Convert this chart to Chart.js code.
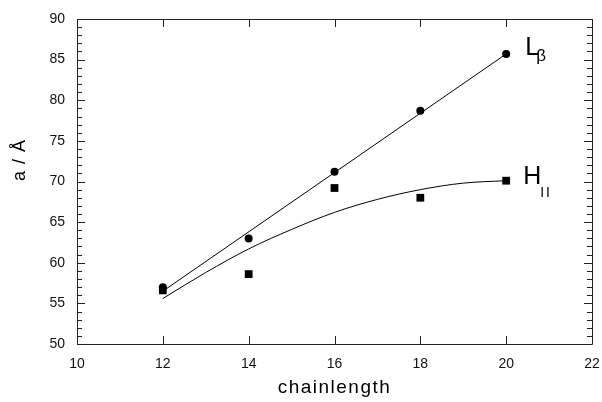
<!DOCTYPE html>
<html>
<head>
<meta charset="utf-8">
<script src="https://cdn.jsdelivr.net/npm/chart.js@4.4.0/dist/chart.umd.min.js"></script>
<style>
html,body{margin:0;padding:0;background:#fff;}
#wrap{width:602px;height:402px;}
</style>
</head>
<body>
<div id="wrap"><canvas id="c" width="602" height="402"></canvas></div>
<script>
// Data
const chainLength = [12, 14, 16, 18, 20];
const lBeta = [57.0, 63.0, 71.2, 78.7, 85.7];
const hII = [56.6, 58.6, 69.2, 68.0, 70.1];
// fitted line for L-beta (endpoints)
const lBetaFitX = [12, 20];
const lBetaFitY = [56.5, 85.7];
// fitted curve for H-II
const hIIFitX = [12, 13, 14, 15, 16, 17, 18, 19, 20];
const hIIFitY = [55.6, 58.8, 61.7, 64.1, 66.2, 67.8, 69.0, 69.8, 70.1];
const xTicks = [10, 12, 14, 16, 18, 20, 22];
const yTicks = [50, 55, 60, 65, 70, 75, 80, 85, 90];

const FONT = '"Liberation Sans", Arial, Helvetica, sans-serif';
const zip = (xs, ys) => xs.map((x, i) => ({x: x, y: ys[i]}));

const framePlugin = {
  id: 'frame',
  afterDraw(chart) {
    const ctx = chart.ctx;
    const a = chart.chartArea;
    const xs = chart.scales.x, ys = chart.scales.y;
    ctx.save();
    ctx.strokeStyle = '#222';
    ctx.lineWidth = 1;
    ctx.beginPath();
    ctx.rect(Math.round(a.left) + 0.5, Math.round(a.top) + 0.5, Math.round(a.right - a.left), Math.round(a.bottom - a.top));
    ctx.stroke();
    ctx.beginPath();
    // x major ticks (inside, top and bottom)
    xTicks.forEach(v => {
      const px = Math.round(xs.getPixelForValue(v)) + 0.5;
      ctx.moveTo(px, a.bottom); ctx.lineTo(px, a.bottom - 8);
      ctx.moveTo(px, a.top); ctx.lineTo(px, a.top + 8);
    });
    // y ticks, major every 5 and minor every 1
    for (let v = ys.min; v <= ys.max; v += 1) {
      const py = Math.round(ys.getPixelForValue(v)) + 0.5;
      const len = (v % 5 === 0) ? 8 : 5;
      ctx.moveTo(a.left, py); ctx.lineTo(a.left + len, py);
      ctx.moveTo(a.right, py); ctx.lineTo(a.right - len, py);
    }
    ctx.stroke();

    // series labels
    ctx.fillStyle = '#000';
    ctx.textBaseline = 'alphabetic';
    ctx.textAlign = 'left';
    const lx = xs.getPixelForValue(20) + 17;
    ctx.font = '25px ' + FONT;
    ctx.fillText('L', lx + 2, ys.getPixelForValue(85.7) + 1);
    ctx.font = '17px ' + FONT;
    ctx.fillText('\u03B2', lx + 13, ys.getPixelForValue(85.7) + 7);
    ctx.font = '25px ' + FONT;
    ctx.fillText('H', lx, ys.getPixelForValue(70.1) + 3);
    ctx.font = '14px ' + FONT;
    ctx.letterSpacing = '2px';
    ctx.fillText('II', lx + 17, ys.getPixelForValue(70.1) + 16);

    // axis titles
    ctx.font = '19px ' + FONT;
    ctx.letterSpacing = '1.5px';
    ctx.textAlign = 'center';
    ctx.textBaseline = 'middle';
    ctx.fillText('chainlength', (a.left + a.right) / 2, 388);
    ctx.translate(20, 160);
    ctx.rotate(-Math.PI / 2);
    ctx.font = '18px ' + FONT;
    ctx.letterSpacing = '1px';
    ctx.fillText('a / \u00C5', 0, 0);
    ctx.restore();
  }
};

new Chart(document.getElementById('c'), {
  type: 'scatter',
  data: {
    datasets: [
      {
        label: 'Lβ fit', data: zip(lBetaFitX, lBetaFitY), showLine: true,
        borderColor: '#000', borderWidth: 1, pointRadius: 0, fill: false, order: 3
      },
      {
        label: 'HII fit', data: zip(hIIFitX, hIIFitY), showLine: true,
        borderColor: '#000', borderWidth: 1, pointRadius: 0, fill: false,
        cubicInterpolationMode: 'monotone', order: 4
      },
      {
        label: 'Lβ', data: zip(chainLength, lBeta), showLine: false,
        pointStyle: 'circle', pointRadius: 4, backgroundColor: '#000', borderColor: '#000', borderWidth: 0, order: 1
      },
      {
        label: 'HII', data: zip(chainLength, hII), showLine: false,
        pointStyle: 'rect', pointRadius: 5.5, backgroundColor: '#000', borderColor: '#000', borderWidth: 0, order: 2
      }
    ]
  },
  options: {
    responsive: false,
    animation: false,
    events: [],
    layout: {padding: {top: 19, right: 10, left: 0, bottom: 0}},
    plugins: {legend: {display: false}, tooltip: {enabled: false}},
    scales: {
      x: {
        type: 'linear', min: 10, max: 22,
        afterBuildTicks: s => { s.ticks = xTicks.map(v => ({value: v})); },
        afterFit: s => { s.height = 58; s.paddingRight = 0; s.paddingLeft = 0; },
        grid: {display: false, drawTicks: false},
        border: {display: false},
        ticks: {color: '#111', font: {family: FONT, size: 14}, padding: 12, maxRotation: 0, autoSkip: false}
      },
      y: {
        type: 'linear', min: 50, max: 90,
        afterBuildTicks: s => { s.ticks = yTicks.map(v => ({value: v})); },
        afterFit: s => { s.width = 77; s.paddingTop = 0; s.paddingBottom = 0; },
        grid: {display: false, drawTicks: false},
        border: {display: false},
        ticks: {color: '#111', font: {family: FONT, size: 14}, padding: 12, autoSkip: false}
      }
    }
  },
  plugins: [framePlugin]
});
</script>
</body>
</html>
